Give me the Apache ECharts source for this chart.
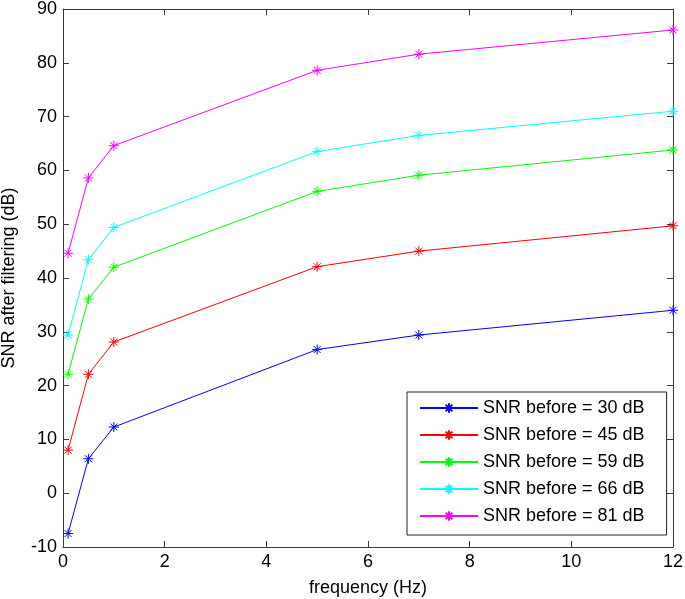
<!DOCTYPE html>
<html>
<head>
<meta charset="utf-8">
<script src="https://cdn.jsdelivr.net/npm/echarts@6/dist/echarts.min.js"></script>
<style>html,body{margin:0;padding:0;background:#fff;}#c{width:685px;height:599px;}</style>
</head>
<body>
<div id="c"></div>
<script>
const freq = [0.1, 0.5, 1, 5, 7, 12];
const snr30 = [-7.5, 6.4, 12.3, 26.7, 29.4, 34.0];
const snr45 = [8.0, 22.1, 28.1, 42.1, 45.0, 49.7];
const snr59 = [22.1, 36.1, 42.0, 56.1, 59.1, 63.8];
const snr66 = [29.4, 43.4, 49.4, 63.5, 66.5, 71.0];
const snr81 = [44.6, 58.6, 64.6, 78.6, 81.6, 86.1];
const seriesNames = ['SNR before = 30 dB','SNR before = 45 dB','SNR before = 59 dB','SNR before = 66 dB','SNR before = 81 dB'];
const seriesData = [snr30, snr45, snr59, snr66, snr81];
const colors = ['#0000ff','#ff0000','#00ff00','#00ffff','#ff00ff'];
const xTicks = {min: 0, max: 12, interval: 2};
const yTicks = {min: -10, max: 90, interval: 10};

const star = 'path://M0,-10L0,10M-10,0L10,0M-7,-7L7,7M-7,7L7,-7';
const axisColor = '#3a3a3a';
const font = 'Liberation Sans, Arial, sans-serif';

function axisCommon(extra) {
  return Object.assign({
    type: 'value',
    axisLine: {show: true, onZero: false, lineStyle: {color: axisColor, width: 1}},
    axisTick: {show: true, inside: true, length: 6, lineStyle: {color: axisColor}},
    splitLine: {show: false},
    axisLabel: {color: '#000', fontSize: 18, fontFamily: font, margin: 6}
  }, extra);
}

const chart = echarts.init(document.getElementById('c'), null, {renderer: 'canvas'});
chart.setOption({
  animation: false,
  backgroundColor: '#fff',
  grid: {left: 63, top: 9, width: 610, height: 538, containLabel: false, outerBoundsMode: 'none'},
  xAxis: [
    axisCommon({min: xTicks.min, max: xTicks.max, interval: xTicks.interval, position: 'bottom',
      name: 'frequency (Hz)', nameLocation: 'middle', nameGap: 32,
      nameTextStyle: {color: '#000', fontSize: 18, fontFamily: font}}),
    axisCommon({min: xTicks.min, max: xTicks.max, interval: xTicks.interval, position: 'top',
      axisLabel: {show: false}})
  ],
  yAxis: [
    axisCommon({min: yTicks.min, max: yTicks.max, interval: yTicks.interval, position: 'left',
      name: 'SNR after filtering (dB)', nameLocation: 'middle', nameGap: 45, nameRotate: 90,
      nameTextStyle: {color: '#000', fontSize: 18, fontFamily: font}}),
    axisCommon({min: yTicks.min, max: yTicks.max, interval: yTicks.interval, position: 'right',
      axisLabel: {show: false}})
  ],
  legend: {
    orient: 'vertical',
    left: 407, top: 392,
    padding: [6, 22, 9, 12],
    itemWidth: 58, itemHeight: 12, itemGap: 7,
    backgroundColor: '#fff',
    borderColor: '#222', borderWidth: 1, borderRadius: 0,
    textStyle: {color: '#000', fontSize: 18, fontFamily: font, lineHeight: 20},
    data: seriesNames
  },
  series: seriesData.map((d, i) => ({
    name: seriesNames[i],
    type: 'line',
    xAxisIndex: 0, yAxisIndex: 0,
    data: freq.map((f, j) => [f, d[j]]),
    symbol: star,
    symbolSize: 10,
    showAllSymbol: true,
    lineStyle: {color: colors[i], width: 1},
    itemStyle: {color: colors[i], borderColor: colors[i], borderWidth: 1},
    emphasis: {disabled: true}
  }))
});
</script>
</body>
</html>
